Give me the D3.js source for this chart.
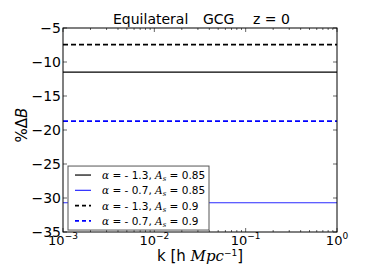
<!DOCTYPE html>
<html>
<head>
<meta charset="utf-8">
<script src="https://d3js.org/d3.v7.min.js"></script>
<style>
body { margin: 0; background: #fff; }
text { font-family: "DejaVu Sans", sans-serif; }
</style>
</head>
<body>
<svg id="chart" width="374" height="280"></svg>
<script>
// k range (log axis) and y range
const kDomain = [1e-3, 1];
const yTicks = [-35, -30, -25, -20, -15, -10, -5];
const xTicks = [1e-3, 1e-2, 1e-1, 1];
const xExps = ["-3", "-2", "-1", "0"];
const titleParts = ["Equilateral", "GCG", "z = 0"];

// series: constant %ΔB values over k
const seriesAlpha = ["- 1.3", "- 0.7", "- 1.3", "- 0.7"];
const seriesAs = ["0.85", "0.85", "0.9", "0.9"];
const seriesValue = [-11.5, -30.7, -7.45, -18.7];
const seriesColor = ["black", "#2a2aff", "black", "#0000ff"];
const seriesDash = [null, null, "5,3", "5,3"];

const margin = {left: 63, right: 37, top: 28, bottom: 48};
const width = 374 - margin.left - margin.right;
const height = 280 - margin.top - margin.bottom;

const svg = d3.select("#chart");
const g = svg.append("g").attr("transform", `translate(${margin.left},${margin.top})`);

const x = d3.scaleLog().domain(kDomain).range([0, width]);
const y = d3.scaleLinear().domain([-35, -5]).range([height, 0]);

// series lines
const kPoints = [1e-3, 1];
const line = d3.line().x(d => x(d[0])).y(d => y(d[1]));
seriesValue.forEach((v, i) => {
  g.append("path")
    .datum(kPoints.map(k => [k, v]))
    .attr("d", line)
    .attr("fill", "none")
    .attr("stroke", seriesColor[i])
    .attr("stroke-width", seriesDash[i] ? 1.8 : 1.2)
    .attr("stroke-dasharray", seriesDash[i]);
});

// minor ticks on log axis
const minor = [];
for (let e = -3; e < 0; e++) {
  for (let m = 2; m <= 9; m++) minor.push(m * Math.pow(10, e));
}
minor.forEach(k => {
  g.append("line").attr("x1", x(k)).attr("x2", x(k)).attr("y1", height).attr("y2", height - 2).attr("stroke", "black").attr("stroke-width", 0.6);
  g.append("line").attr("x1", x(k)).attr("x2", x(k)).attr("y1", 0).attr("y2", 2).attr("stroke", "black").attr("stroke-width", 0.6);
});
xTicks.forEach(k => {
  g.append("line").attr("x1", x(k)).attr("x2", x(k)).attr("y1", height).attr("y2", height - 4).attr("stroke", "black").attr("stroke-width", 0.6);
  g.append("line").attr("x1", x(k)).attr("x2", x(k)).attr("y1", 0).attr("y2", 4).attr("stroke", "black").attr("stroke-width", 0.6);
});
yTicks.forEach(t => {
  g.append("line").attr("x1", 0).attr("x2", 4).attr("y1", y(t)).attr("y2", y(t)).attr("stroke", "black").attr("stroke-width", 0.6);
  g.append("line").attr("x1", width).attr("x2", width - 4).attr("y1", y(t)).attr("y2", y(t)).attr("stroke", "black").attr("stroke-width", 0.6);
  g.append("text").attr("x", -2).attr("y", y(t) + 5).attr("text-anchor", "end")
    .attr("font-size", 14).text("\u2212" + Math.abs(t));
});

// x tick labels 10^n
xTicks.forEach((k, i) => {
  const t = g.append("text").attr("x", x(k)).attr("y", height + 13).attr("text-anchor", "middle").attr("font-size", 13);
  t.append("tspan").text("10");
  t.append("tspan").attr("dy", -6).attr("font-size", 9).text(xExps[i] === "0" ? "0" : "\u2212" + xExps[i].slice(1));
});

// frame
g.append("rect").attr("width", width).attr("height", height).attr("fill", "none").attr("stroke", "black").attr("stroke-width", 1);

// title
const titleX = [113, 203, 253];
titleParts.forEach((s, i) => {
  svg.append("text").attr("x", titleX[i]).attr("y", 24).attr("font-size", 14).text(s);
});

// axis labels
const xl = g.append("text").attr("x", width / 2).attr("y", height + 29).attr("text-anchor", "middle").attr("font-size", 15);
xl.append("tspan").text("k [h ");
xl.append("tspan").attr("font-family", "DejaVu Serif").attr("font-style", "italic").text("Mpc");
xl.append("tspan").attr("dy", -5).attr("font-size", 9).text("\u22121");
xl.append("tspan").attr("dy", 5).text("]");

const yl = svg.append("text").attr("transform", `translate(27,${margin.top + height / 2 - 5}) rotate(-90)`)
  .attr("text-anchor", "middle").attr("font-size", 15).attr("font-family", "DejaVu Serif");
yl.append("tspan").text("%\u0394");
yl.append("tspan").attr("font-style", "italic").text("B");

// legend
const lg = g.append("g").attr("transform", `translate(5,${y(-25.3)})`);
lg.append("rect").attr("width", 141).attr("height", 64).attr("fill", "white").attr("stroke", "#555").attr("stroke-width", 1);
seriesValue.forEach((v, i) => {
  const yy = 9 + i * 15.3;
  lg.append("line").attr("x1", 7).attr("x2", 23).attr("y1", yy).attr("y2", yy)
    .attr("stroke", seriesColor[i]).attr("stroke-width", seriesDash[i] ? 1.8 : 1.2)
    .attr("stroke-dasharray", seriesDash[i] ? "4,3" : null);
  const t = lg.append("text").attr("x", 34).attr("y", yy + 4).attr("font-size", 10.5);
  t.append("tspan").attr("font-family", "DejaVu Serif").attr("font-style", "italic").text("\u03b1");
  t.append("tspan").text(" = " + seriesAlpha[i] + ", ");
  t.append("tspan").attr("font-family", "DejaVu Serif").attr("font-style", "italic").text("A");
  t.append("tspan").attr("font-family", "DejaVu Serif").attr("font-style", "italic").attr("font-size", 7).attr("dy", 2).text("s");
  t.append("tspan").attr("dy", -2).text(" = " + seriesAs[i]);
});
</script>
</body>
</html>
